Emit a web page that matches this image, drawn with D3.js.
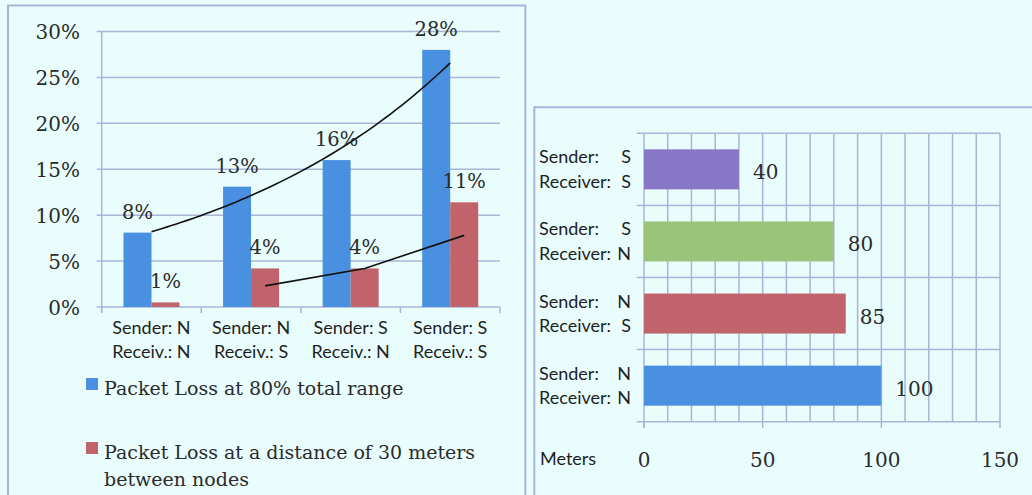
<!DOCTYPE html>
<html>
<head>
<meta charset="utf-8">
<script src="https://cdn.jsdelivr.net/npm/d3@7"></script>
<style>
  html, body { margin: 0; padding: 0; background: #e9fdfd; }
  svg { display: block; }
</style>
</head>
<body>
<svg id="chart" width="1032" height="495"></svg>
<script>
// ---- Packet loss by sender / receiver placement ----
const senders   = ["N", "N", "S", "S"];
const receivers = ["N", "S", "N", "S"];
const lossFullRange = [8.1, 13.1, 16.0, 28.0];   // % loss at 80% of total range
const loss30m       = [0.5, 4.2, 4.2, 11.4];     // % loss at 30 m between nodes
const lossTicks     = [0, 5, 10, 15, 20, 25, 30];
const seriesNames = [
  "Packet Loss at 80% total range",
  "Packet Loss at a distance of 30 meters|between nodes"
];
// hand-drawn guide over the 30 m series: [category index, % value]
const guide30m = [[1, 2.3], [2, 4.2], [3, 7.8]];

// ---- Maximum range by sender / receiver placement ----
const rangeSenders   = ["S", "S", "N", "N"];
const rangeReceivers = ["S", "N", "S", "N"];
const rangeMeters    = [40, 80, 85, 100];
const rangeTicks     = [0, 50, 100, 150];

const BLUE = "#4a90e0", RED = "#c1636a", PURPLE = "#8777c7", GREEN = "#9bc47b";
const GRID = "#a9b5d8", INK = "#2b2b2b", SERIF = "DejaVu Serif", SANS = "Lato";
const SANS_SIZE = 18;

const svg = d3.select("#chart");

// panel frames
svg.append("path").attr("d", "M8,497 V5.5 H525.3 V497")
  .attr("fill", "none").attr("stroke", GRID).attr("stroke-width", 2);
svg.append("path").attr("d", "M534.3,497 V107.3 H1034")
  .attr("fill", "none").attr("stroke", GRID).attr("stroke-width", 2);

// =============== left: grouped columns ===============
const L = svg.append("g");
const cats = senders.map((s, i) => i);
const x0 = d3.scaleBand().domain(cats).range([101.7, 500]);
const y = d3.scaleLinear().domain([0, 30]).range([307, 31.5]);
const barW = 28;
const x1 = d3.scaleBand().domain([0, 1]).range([-barW, barW]);
const groupCenter = i => x0(i) + x0.bandwidth() / 2;

// horizontal gridlines with left tick stubs
L.selectAll("line.grid").data(lossTicks).join("line")
  .attr("x1", 96.7).attr("x2", 500)
  .attr("y1", d => y(d)).attr("y2", d => y(d))
  .attr("stroke", GRID).attr("stroke-width", 1.5);
// value axis
L.append("line").attr("x1", 101.7).attr("x2", 101.7)
  .attr("y1", y(30)).attr("y2", y(0) + 5)
  .attr("stroke", GRID).attr("stroke-width", 1.5);
// category ticks
L.selectAll("line.ctick").data(d3.range(cats.length + 1)).join("line")
  .attr("x1", d => x0.range()[0] + d * x0.step())
  .attr("x2", d => x0.range()[0] + d * x0.step())
  .attr("y1", y(0)).attr("y2", y(0) + 6)
  .attr("stroke", GRID).attr("stroke-width", 1.5);

L.selectAll("text.ytick").data(lossTicks).join("text")
  .attr("x", 80).attr("y", d => y(d) + 7.5)
  .attr("text-anchor", "end")
  .attr("font-family", SERIF).attr("font-size", 20).attr("fill", INK)
  .text(d => d + "%");

const seriesVals = [lossFullRange, loss30m];
const seriesCols = [BLUE, RED];
const bars = [];
seriesVals.forEach((vals, s) => vals.forEach((v, i) => bars.push({ s, i, v })));

L.selectAll("rect.bar").data(bars).join("rect")
  .attr("x", d => groupCenter(d.i) + x1(d.s))
  .attr("width", x1.bandwidth())
  .attr("y", d => y(d.v))
  .attr("height", d => y(0) - y(d.v))
  .attr("fill", d => seriesCols[d.s]);

// exponential trend over the 80%-range series (least squares on ln y)
(function () {
  const xs = lossFullRange.map((_, i) => i + 1);
  const ls = lossFullRange.map(v => Math.log(v));
  const mx = d3.mean(xs), ml = d3.mean(ls);
  const b = d3.sum(xs, (xv, k) => (xv - mx) * (ls[k] - ml)) / d3.sum(xs, xv => (xv - mx) ** 2);
  const a = ml - b * mx;
  const px = d3.scaleLinear().domain([1, xs.length])
    .range([groupCenter(0), groupCenter(xs.length - 1)]);
  const pts = d3.range(1, xs.length + 0.001, 0.05).map(t => [px(t), y(Math.exp(a + b * t))]);
  L.append("path").attr("d", d3.line()(pts))
    .attr("fill", "none").attr("stroke", "#111").attr("stroke-width", 1.6);
})();

// guide over the 30 m series, through the red column centres
L.append("path")
  .attr("d", d3.line()(guide30m.map(([i, v]) => [groupCenter(i) + x1(1) + barW / 2, y(v)])))
  .attr("fill", "none").attr("stroke", "#111").attr("stroke-width", 1.6);

// value labels (rounded)
L.selectAll("text.val").data(bars).join("text")
  .attr("x", d => groupCenter(d.i) + x1(d.s) + barW / 2)
  .attr("y", d => y(d.v) - 14)
  .attr("text-anchor", "middle")
  .attr("font-family", SERIF).attr("font-size", 19.5).attr("fill", INK)
  .text(d => Math.round(d.v) + "%");

// category labels
const catG = L.selectAll("g.cat").data(cats).join("g")
  .attr("transform", i => `translate(${groupCenter(i)},0)`);
catG.append("text").attr("y", 334).attr("text-anchor", "middle")
  .attr("font-family", SANS).attr("font-size", SANS_SIZE).attr("fill", "#1e1e1e")
  .text(i => "Sender: " + senders[i]);
catG.append("text").attr("y", 358).attr("text-anchor", "middle")
  .attr("font-family", SANS).attr("font-size", SANS_SIZE).attr("fill", "#1e1e1e")
  .text(i => "Receiv.: " + receivers[i]);

// legend
const legY = [378, 442];
const leg = L.selectAll("g.leg").data(seriesNames).join("g")
  .attr("transform", (d, k) => `translate(86,${legY[k]})`);
leg.append("rect").attr("width", 12).attr("height", 12)
  .attr("fill", (d, k) => seriesCols[k]);
leg.append("text")
  .attr("font-family", SERIF).attr("font-size", 19).attr("fill", INK)
  .selectAll("tspan").data(d => d.split("|")).join("tspan")
  .attr("x", 18).attr("y", (d, j) => 17 + j * 26.5)
  .text(d => d);

// =============== right: horizontal bars ===============
const R = svg.append("g");
const rx = d3.scaleLinear().domain([0, 150]).range([644, 1000]);
const ry = d3.scaleBand().domain(d3.range(rangeMeters.length)).range([133.3, 421.7]);
const barH = ry.bandwidth() * 0.555;
const rangeCols = [PURPLE, GREEN, RED, BLUE];

// vertical grid every 10 m
R.selectAll("line.vg").data(d3.range(10, 151, 10)).join("line")
  .attr("x1", d => rx(d)).attr("x2", d => rx(d))
  .attr("y1", 133.3).attr("y2", 421.7)
  .attr("stroke", GRID).attr("stroke-width", 1.5);
// band boundaries with left stubs
R.selectAll("line.hg").data(d3.range(rangeMeters.length + 1)).join("line")
  .attr("x1", 636.7).attr("x2", 1000)
  .attr("y1", d => 133.3 + d * ry.step()).attr("y2", d => 133.3 + d * ry.step())
  .attr("stroke", GRID).attr("stroke-width", 1.5);
// axis line at zero and tick marks below
R.append("line").attr("x1", rx(0)).attr("x2", rx(0)).attr("y1", 133.3).attr("y2", 428)
  .attr("stroke", GRID).attr("stroke-width", 1.5);
R.selectAll("line.xt").data(rangeTicks).join("line")
  .attr("x1", d => rx(d)).attr("x2", d => rx(d)).attr("y1", 421.7).attr("y2", 428)
  .attr("stroke", GRID).attr("stroke-width", 1.5);

R.selectAll("rect.hbar").data(rangeMeters).join("rect")
  .attr("x", rx(0))
  .attr("y", (d, i) => ry(i) + (ry.bandwidth() - barH) / 2)
  .attr("width", d => rx(d) - rx(0))
  .attr("height", barH)
  .attr("fill", (d, i) => rangeCols[i]);

R.selectAll("text.hval").data(rangeMeters).join("text")
  .attr("x", d => rx(d) + 14)
  .attr("y", (d, i) => ry(i) + ry.bandwidth() / 2 + 10)
  .attr("font-family", SERIF).attr("font-size", 20).attr("fill", INK)
  .text(d => d);

R.selectAll("text.xtl").data(rangeTicks).join("text")
  .attr("x", d => rx(d)).attr("y", 467)
  .attr("text-anchor", "middle")
  .attr("font-family", SERIF).attr("font-size", 20).attr("fill", INK)
  .text(d => d);

R.append("text").attr("x", 540).attr("y", 465)
  .attr("font-family", SANS).attr("font-size", SANS_SIZE).attr("fill", "#1e1e1e")
  .text("Meters");

const rl = R.selectAll("g.rcat").data(rangeMeters.map((_, i) => i)).join("g")
  .attr("transform", i => `translate(0,${ry(i) + ry.bandwidth() / 2})`);
[["Sender:", rangeSenders, -6], ["Receiver:", rangeReceivers, 18.5]].forEach(([lab, arr, dy]) => {
  rl.append("text").attr("x", 539).attr("y", dy)
    .attr("font-family", SANS).attr("font-size", SANS_SIZE).attr("fill", "#1e1e1e").text(lab);
  rl.append("text").attr("x", 631).attr("y", dy).attr("text-anchor", "end")
    .attr("font-family", SANS).attr("font-size", SANS_SIZE).attr("fill", "#1e1e1e").text(i => arr[i]);
});
</script>
</body>
</html>
